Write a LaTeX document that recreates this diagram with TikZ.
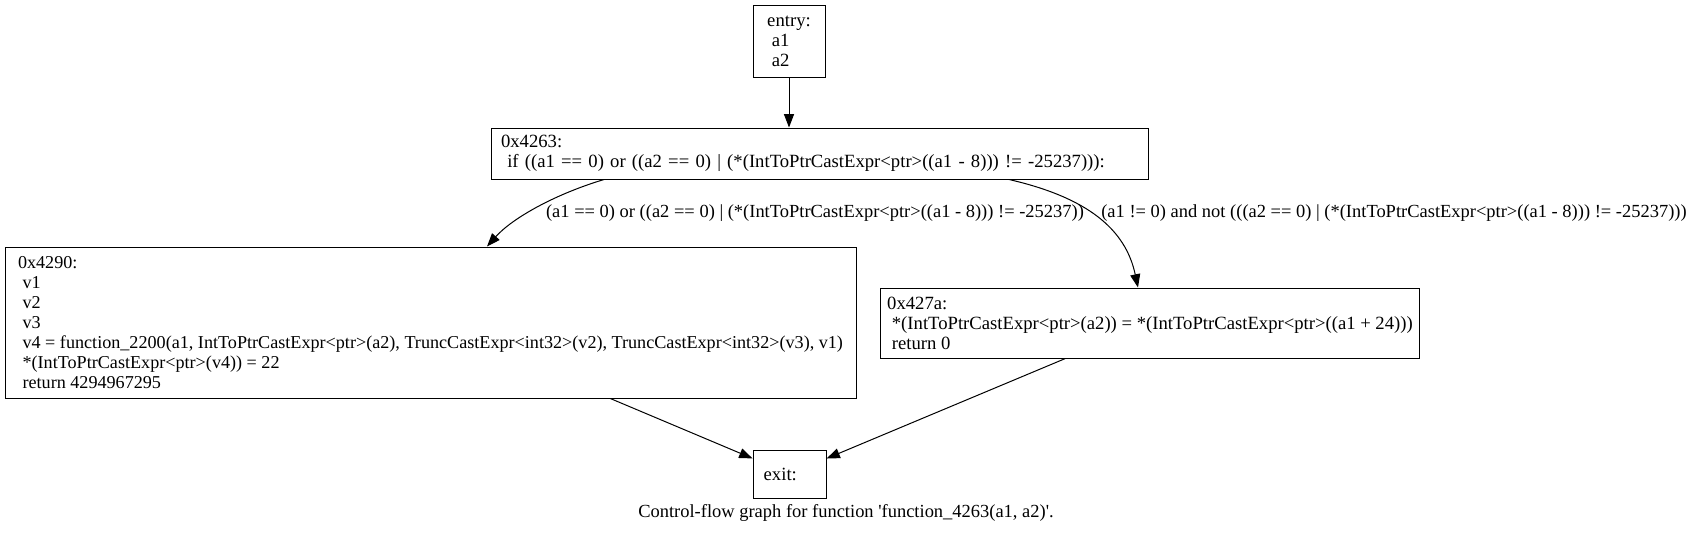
\documentclass[tikz,border=0pt]{standalone}
\usepackage{fontspec}
\setmainfont{Liberation Serif}
\usetikzlibrary{arrows.meta, positioning, calc}

\begin{document}
\begin{tikzpicture}[x=0.75pt, y=-0.75pt, >={Triangle[length=10pt, width=7.5pt]},
        block/.style={rectangle, draw=black, line width=0.75pt, fill=white, align=left, inner xsep=5pt, inner ysep=3pt, font=\fontsize{14pt}{15pt}\selectfont},
        edgelbl/.style={inner sep=0pt, font=\fontsize{13.85pt}{15pt}\selectfont},
        flow/.style={->, line width=0.75pt, black}]

        \useasboundingbox (0,0) rectangle (1693,533);

        \node[block, minimum width=54pt, minimum height=54pt] (entry) at (789,41) {entry:\\\ a1\\\ a2};
        \node[block, minimum width=492.75pt, minimum height=38.25pt, inner xsep=7.5pt, text width=477.75pt, below=37.5pt of entry, xshift=22.9pt] (cond) {0x4263:\\\ if ((a1 == 0) or ((a2 == 0) | (*(IntToPtrCastExpr<ptr>((a1 - 8))) != -25237))):};

        \node[block, minimum width=638.25pt, minimum height=113.25pt, font=\fontsize{13.6pt}{15pt}\selectfont] (b4290) at (430.5,322.5) {0x4290:\\\ v1\\\ v2\\\ v3\\\ v4 = function\_2200(a1, IntToPtrCastExpr<ptr>(a2), TruncCastExpr<int32>(v2), TruncCastExpr<int32>(v3), v1)\\\ *(IntToPtrCastExpr<ptr>(v4)) = 22\\\ return 4294967295};
        \node[block, minimum width=402pt, minimum height=52.5pt] (b427a) at (1150,323) {0x427a:\\\ *(IntToPtrCastExpr<ptr>(a2)) = *(IntToPtrCastExpr<ptr>((a1 + 24)))\\\ return 0};

        \node[block, minimum width=54.75pt, minimum height=36pt, inner xsep=8pt, text width=38.75pt, below=202.5pt of cond, xshift=-22.5pt] (exit) {exit:};

        \node[edgelbl] (yeslbl) at (815,213) {(a1 == 0) or ((a2 == 0) | (*(IntToPtrCastExpr<ptr>((a1 - 8))) != -25237))};
        \node[edgelbl] (nolbl) at (1394,213) {(a1 != 0) and not (((a2 == 0) | (*(IntToPtrCastExpr<ptr>((a1 - 8))) != -25237)))};
        \node[edgelbl] (caption) at (846,513) {Control-flow graph for function \textquotesingle function\_4263(a1, a2)\textquotesingle.};

        \draw[flow] (entry.south) -- (entry.south |- cond.north);
        \draw[flow] ($(cond.south)+(-215.5,0)$) .. controls +(-50,15) and +(25,-28) .. ($(b4290.north)+(56.5,0)$);
        \draw[flow] ($(cond.south)+(189.5,0)$) .. controls +(78,18) and +(-12.5,-58.7) .. ($(b427a.north)+(-12,0)$);
        \draw[flow] (b4290) -- (exit);
        \draw[flow] (b427a) -- (exit);
    \end{tikzpicture}
\end{document}
